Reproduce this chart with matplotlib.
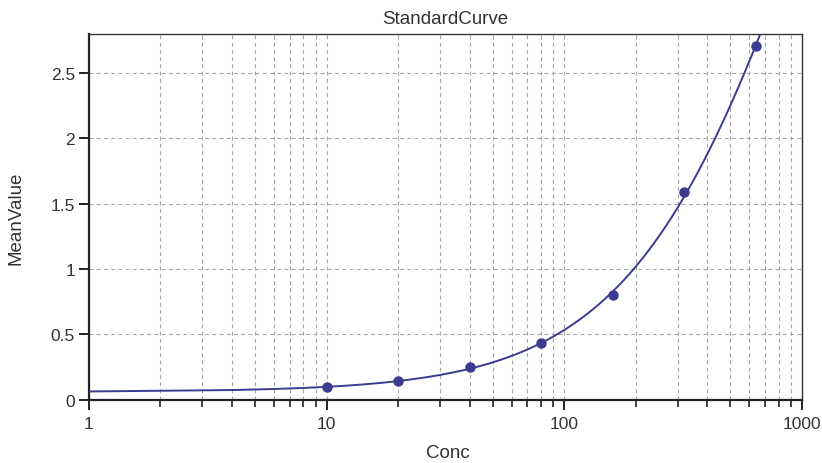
import numpy as np
import matplotlib
matplotlib.use("Agg")
import matplotlib.pyplot as plt
from matplotlib.ticker import LogLocator, FixedLocator, NullFormatter

# ---- data ----
conc = [10, 20, 40, 80, 160, 320, 640]
mean_value = [0.095, 0.145, 0.248, 0.433, 0.80, 1.59, 2.706]
title = "StandardCurve"
xlabel = "Conc"
ylabel = "MeanValue"
x_ticks = [1, 10, 100, 1000]
x_tick_labels = ["1", "10", "100", "1000"]
y_ticks = [0, 0.5, 1, 1.5, 2, 2.5]
y_tick_labels = ["0", "0.5", "1", "1.5", "2", "2.5"]

# ---- 4-parameter logistic fit of the standards (weighted Levenberg-Marquardt) ----
xd = np.array(conc, float)
yd = np.array(mean_value, float)
w = 1.0 / yd


def model(p, x):
    a, b, lc, d = p
    return d + (a - d) / (1.0 + (x / np.exp(lc)) ** b)


def sse(p):
    return np.sum(w * (yd - model(p, xd)) ** 2)


p = np.array([0.06, 1.1, np.log(1000.0), 6.0])
lam = 1e-2
for _ in range(800):
    r = yd - model(p, xd)
    J = np.empty((len(xd), 4))
    for k in range(4):
        h = 1e-6 * max(1.0, abs(p[k]))
        dp = np.zeros(4); dp[k] = h
        J[:, k] = (model(p + dp, xd) - model(p - dp, xd)) / (2 * h)
    A = J.T @ (w[:, None] * J)
    g = J.T @ (w * r)
    step = np.linalg.solve(A + lam * np.diag(np.diag(A) + 1e-12), g)
    pn = p + step
    if np.all(np.isfinite(model(pn, xd))) and sse(pn) < sse(p):
        p = pn
        lam = max(lam / 3, 1e-9)
    else:
        lam *= 4
        if lam > 1e9:
            break

x_curve = np.concatenate([[1.0], np.arange(4.0, 720.0, 2.0)])
y_curve = model(p, x_curve)

# ---- figure ----
plt.rcParams['font.family'] = ['Liberation Sans', 'DejaVu Sans']
fig = plt.figure(figsize=(8.22, 4.64), dpi=100)
ax = fig.add_axes([0.108, 0.1364, 0.8677, 0.7882])

col = "#3b3b8f"
ax.plot(x_curve, y_curve, color=col, lw=1.4, zorder=3)
ax.plot(conc, mean_value, "o", color=col, ms=6.5, zorder=4)

ax.set_xscale("log")
ax.set_xlim(1, 1000)
ax.set_ylim(0, 2.8)
ax.xaxis.set_major_locator(FixedLocator(x_ticks))
ax.set_xticklabels(x_tick_labels)
ax.xaxis.set_minor_locator(LogLocator(base=10, subs=np.arange(2, 10)))
ax.xaxis.set_minor_formatter(NullFormatter())
ax.set_yticks(y_ticks)
ax.set_yticklabels(y_tick_labels)

gc = "#a5a5a5"
ax.grid(True, which="both", axis="x", color=gc, ls=(0, (3.5, 3)), lw=0.8)
ax.grid(True, which="major", axis="y", color=gc, ls=(0, (3.5, 3)), lw=0.8)
ax.set_axisbelow(True)

for s in ["left", "bottom"]:
    ax.spines[s].set_linewidth(1.6)
    ax.spines[s].set_color("#222222")
for s in ["top", "right"]:
    ax.spines[s].set_linewidth(1.0)
    ax.spines[s].set_color("#333333")

ax.tick_params(axis="both", which="major", direction="out", length=7, width=1.4,
               colors="#222222", labelsize=12.5, labelcolor="#333333")
ax.tick_params(axis="x", which="minor", direction="out", length=5, width=1.2, colors="#222222")
ax.tick_params(axis="x", which="major", pad=5)
ax.tick_params(axis="y", which="major", pad=3)

ax.set_title(title, fontsize=13.5, color="#333333", pad=8)
ax.set_xlabel(xlabel, fontsize=13.5, color="#333333")
ax.xaxis.set_label_coords(0.503, -0.12)
ax.set_ylabel(ylabel, fontsize=13.5, color="#333333")
ax.yaxis.set_label_coords(-0.09, 0.5)

fig.savefig("out.png", dpi=100)
